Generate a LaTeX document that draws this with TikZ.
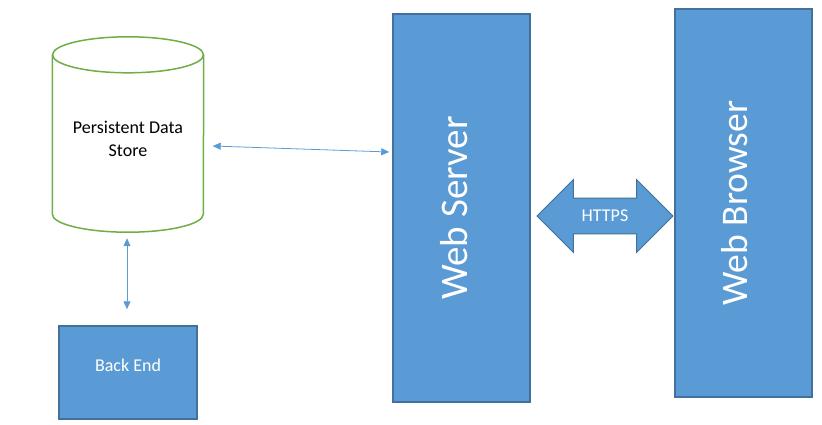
\documentclass[tikz,border=0pt]{standalone}
\usepackage{fontspec}
\setmainfont{Carlito}
\usetikzlibrary{arrows.meta, shapes.arrows, positioning}
\definecolor{boxblue}{HTML}{5B9BD5}
\definecolor{boxedge}{HTML}{41719C}
\definecolor{storegreen}{HTML}{70AD47}
\tikzset{
    block/.style={draw=boxedge, fill=boxblue, line width=1.5pt, text=white, inner sep=0},
    tall/.style={block, minimum width=137pt, minimum height=388pt},
    sidetext/.style={rotate=90, text=white, font=\fontsize{#1}{40}\selectfont},
    link/.style={boxblue, line width=0.8pt, {Triangle[width=7pt,length=8pt]}-{Triangle[width=7pt,length=8pt]}}
  }

\begin{document}
\begin{tikzpicture}[x=1pt, y=-1pt]
    \useasboundingbox (0,0) rectangle (822,424);
    % data store: node for the anchors, outline drawn round it
    \node (store) [minimum width=151pt, minimum height=195pt, inner sep=0,
        label={[align=center, yshift=-4pt, font=\fontsize{18}{23}\selectfont]center:Persistent Data\\Store}] at (128,134.5) {};
    \draw[storegreen, line width=1.5pt] ([yshift=-18pt]store.north west) -- ([yshift=18pt]store.south west)
        arc[start angle=180, end angle=360, x radius=75.5pt, y radius=18pt] -- ([yshift=-18pt]store.north east);
    \draw[storegreen, line width=1.5pt] ([yshift=-18pt]store.north) ellipse[x radius=75.5pt, y radius=18pt];
    \node (backend) [block, minimum width=138pt, minimum height=93pt,
        label={[text=white, yshift=7pt, font=\fontsize{18}{20}\selectfont]center:Back End}] at (128,372.5) {};
    \node (server) [tall] at (461.5,208) {};
    \node (servertext) [sidetext=39] at ([xshift=-7pt]server.center) {Web Server};
    \node (browser) [tall] at (743.5,203) {};
    \node (browsertext) [sidetext=37.5] at ([xshift=-8.5pt]browser.center) {Web Browser};
    \node (https) [double arrow, draw=boxedge, fill=boxblue, line width=1pt, text=white, minimum height=136pt, inner ysep=11.5pt, double arrow head extend=18.5pt, font=\fontsize{18}{20}\selectfont] at (605,216) {HTTPS};
    % connectors
    \draw[link] ([xshift=9pt, yshift=-11.5pt]store.east) -- ([xshift=-3pt, yshift=56pt]server.west);
    \draw[link] ([xshift=-1pt, yshift=-6pt]store.south) -- ([xshift=-1pt, yshift=16pt]backend.north);
\end{tikzpicture}
\end{document}
